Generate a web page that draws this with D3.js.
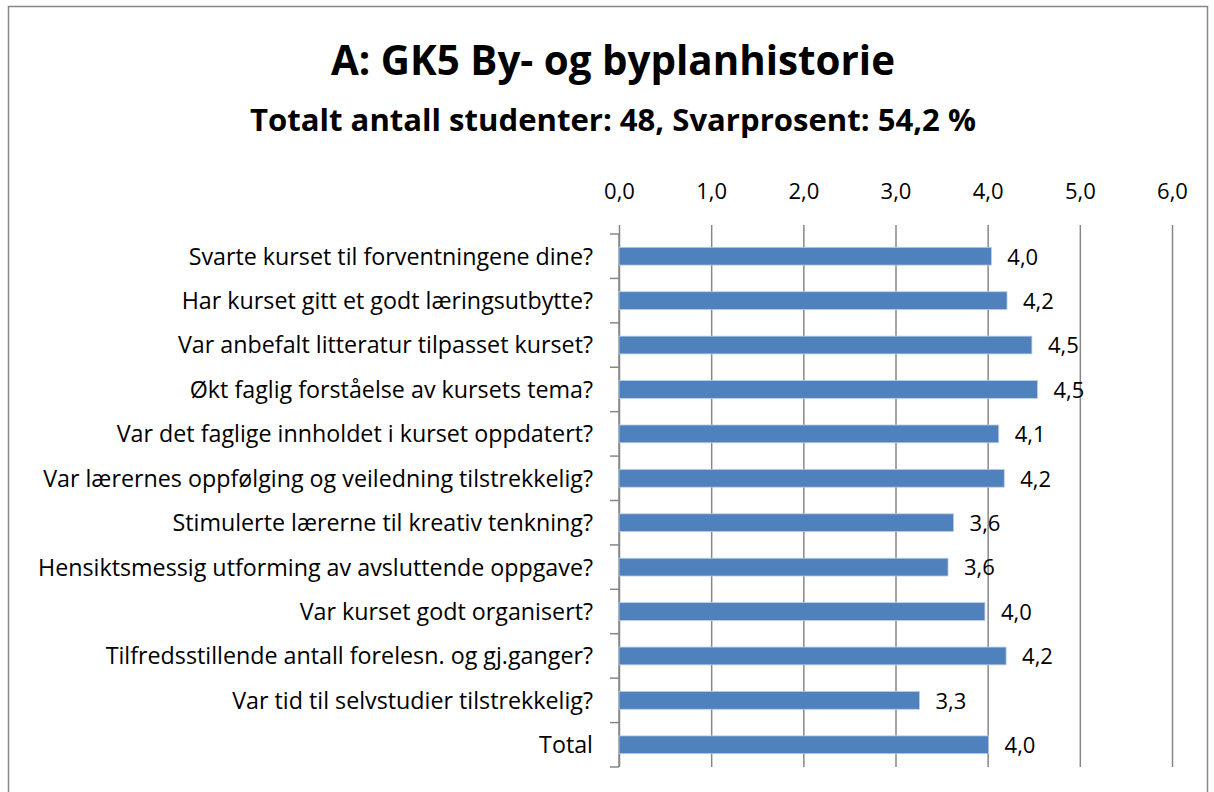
<!DOCTYPE html>
<html>
<head>
<meta charset="utf-8">
<script src="https://cdn.jsdelivr.net/npm/d3@7"></script>
<style>
  body { margin: 0; background: #fff; }
  text { font-family: "Open Sans", Lato, sans-serif; fill: #000; }
</style>
</head>
<body>
<div id="chart"></div>
<script>
// Data
const categories = [
  "Svarte kurset til forventningene dine?",
  "Har kurset gitt et godt læringsutbytte?",
  "Var anbefalt litteratur tilpasset kurset?",
  "Økt faglig forståelse av kursets tema?",
  "Var det faglige innholdet i kurset oppdatert?",
  "Var lærernes oppfølging og veiledning tilstrekkelig?",
  "Stimulerte lærerne til kreativ tenkning?",
  "Hensiktsmessig utforming av avsluttende oppgave?",
  "Var kurset godt organisert?",
  "Tilfredsstillende antall forelesn. og gj.ganger?",
  "Var tid til selvstudier tilstrekkelig?",
  "Total"
];
const values = [4.04, 4.21, 4.48, 4.54, 4.12, 4.18, 3.63, 3.57, 3.97, 4.20, 3.26, 4.01];
const xTicks = [0, 1, 2, 3, 4, 5, 6];
const title = "A: GK5 By- og byplanhistorie";
const subtitle = "Totalt antall studenter: 48, Svarprosent: 54,2 %";

const width = 1214;
const height = 792;
const plot = { left: 619, right: 1172, top: 234, bottom: 767 };
const gray = "#878787";

const fmt = d => d3.format(".1f")(d).replace(".", ",");

// shrink/grow a text's font so it spans roughly the width seen in the reference
function fitWidth(sel, base, target) {
  sel.style("font-size", base + "px");
  const w = d3.max(sel.nodes(), n => n.getComputedTextLength());
  sel.style("font-size", (base * target / w).toFixed(2) + "px");
}

const svg = d3.select("#chart")
  .append("svg")
  .attr("width", width)
  .attr("height", height);

// chart frame
svg.append("rect")
  .attr("x", 8.5)
  .attr("y", 6.5)
  .attr("width", 1199)
  .attr("height", 820)
  .attr("fill", "none")
  .attr("stroke", gray)
  .attr("stroke-width", 1.5);

// titles
const t1 = svg.append("text")
  .attr("x", 613)
  .attr("y", 75)
  .attr("text-anchor", "middle")
  .style("font-weight", "bold")
  .text(title);
fitWidth(t1, 36, 564);

const t2 = svg.append("text")
  .attr("x", 613)
  .attr("y", 131)
  .attr("text-anchor", "middle")
  .style("font-weight", "bold")
  .text(subtitle);
fitWidth(t2, 26, 726);

// scales
const x = d3.scaleLinear()
  .domain([0, 6])
  .range([plot.left, plot.right]);

const y = d3.scaleBand()
  .domain(categories)
  .range([plot.top, plot.bottom])
  .paddingInner(0.6)
  .paddingOuter(0.3);

// gridlines
svg.append("g")
  .attr("transform", `translate(0,${plot.top})`)
  .call(d3.axisBottom(x).tickValues(xTicks).tickSize(plot.bottom - plot.top).tickFormat(""))
  .call(g => g.select(".domain").remove())
  .call(g => g.selectAll("line").attr("stroke", gray).attr("stroke-width", 1.5));

// top axis (ticks + labels)
const xAxis = svg.append("g")
  .attr("transform", `translate(0,${plot.top})`)
  .call(d3.axisTop(x).tickValues(xTicks).tickSize(9).tickPadding(26).tickFormat(fmt))
  .call(g => g.select(".domain").remove())
  .call(g => g.selectAll("line").attr("stroke", gray).attr("stroke-width", 1.5));

xAxis.selectAll("text")
  .style("font-size", "22px")
  .style("font-family", "'Open Sans', Lato, sans-serif")
  .attr("fill", "#000");

// left axis line + category boundary ticks
svg.append("line")
  .attr("x1", plot.left)
  .attr("x2", plot.left)
  .attr("y1", plot.top)
  .attr("y2", plot.bottom)
  .attr("stroke", gray)
  .attr("stroke-width", 1.5);

const boundaries = categories.map(c => y(c) + y.bandwidth() / 2 - y.step() / 2);
boundaries.push(boundaries[boundaries.length - 1] + y.step());

svg.selectAll(".cat-tick")
  .data(boundaries)
  .enter()
  .append("line")
  .attr("class", "cat-tick")
  .attr("x1", plot.left - 9)
  .attr("x2", plot.left)
  .attr("y1", d => d)
  .attr("y2", d => d)
  .attr("stroke", gray)
  .attr("stroke-width", 1.5);

// category labels
const catLabels = svg.selectAll(".cat-label")
  .data(categories)
  .enter()
  .append("text")
  .attr("class", "cat-label")
  .attr("x", plot.left - 26)
  .attr("y", d => y(d) + y.bandwidth() / 2)
  .attr("dy", "0.36em")
  .attr("text-anchor", "end")
  .text(d => d);
fitWidth(catLabels, 20, 555);

// bars
const rows = categories.map((c, i) => ({ name: c, value: values[i] }));

svg.selectAll(".bar")
  .data(rows)
  .enter()
  .append("rect")
  .attr("class", "bar")
  .attr("x", x(0))
  .attr("y", d => y(d.name))
  .attr("width", d => x(d.value) - x(0))
  .attr("height", y.bandwidth())
  .attr("fill", "#4F81BD")
  .attr("stroke", "#B9CDE5")
  .attr("stroke-width", 0.8);

// value labels
svg.selectAll(".val")
  .data(rows)
  .enter()
  .append("text")
  .attr("class", "val")
  .attr("x", d => x(d.value) + 16)
  .attr("y", d => y(d.name) + y.bandwidth() / 2)
  .attr("dy", "0.38em")
  .style("font-size", "22px")
  .text(d => fmt(d.value));
</script>
</body>
</html>
